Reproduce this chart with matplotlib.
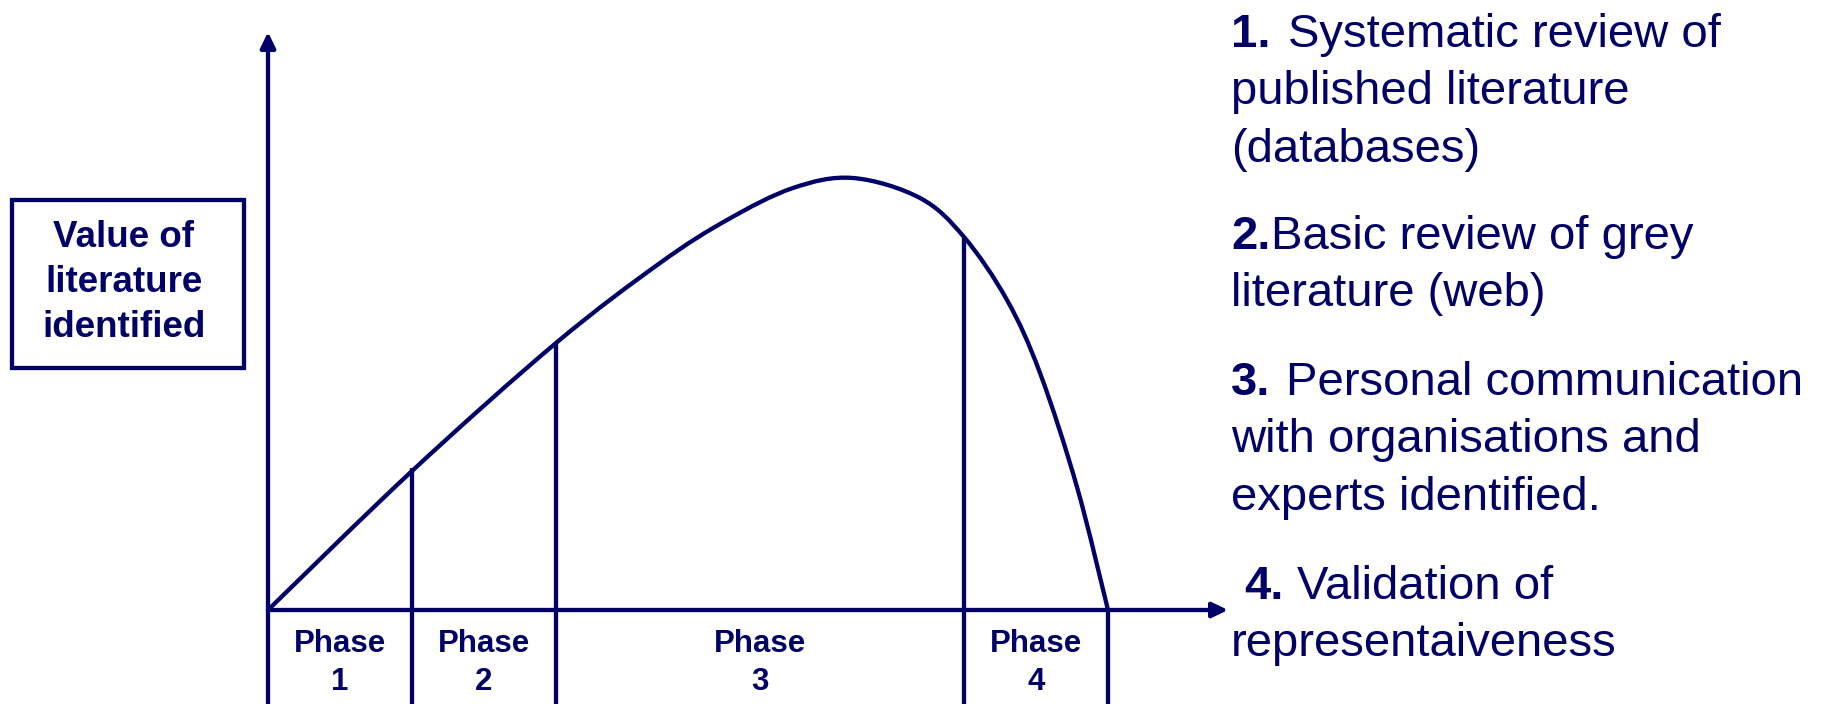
import matplotlib
matplotlib.use("Agg")
import matplotlib.pyplot as plt
from matplotlib.patches import Rectangle, PathPatch
from matplotlib.path import Path

# ---------------- data ----------------
# curve: x = distance along the time axis, y = value of literature identified
curve_x = [0, 144, 288, 392, 459, 525, 585, 652, 696, 739, 772, 809, 840]
curve_y = [0, 139, 267, 347, 390, 422, 432, 412, 373, 310, 237, 123, 0]

# phase boundaries along the x axis and curve height at each boundary
phase_edges = [0, 144, 288, 696, 840]
phase_tops = [0, 142, 267, 372, 0]
phase_names = ["Phase", "Phase", "Phase", "Phase"]
phase_numbers = ["1", "2", "3", "4"]

y_label_lines = ["Value of", "literature", "identified"]

note_numbers = ["1.", "2.", "3.", "4."]
note_texts = [
    ["Systematic review of", "published literature", "(databases)"],
    ["Basic review of grey", "literature (web)"],
    ["Personal communication", "with organisations and", "experts identified."],
    ["Validation of", "representaiveness"],
]

# ---------------- style / layout ----------------
C = "#000066"
LW = 3.1
FONT = "Liberation Sans"
W, H = 1824, 704
OX, OY = 268, 610          # pixel position of the chart origin
X_TIP, Y_TIP = 1228, 32    # pixel positions of arrow tips


def P(px, py):
    """layout pixel (from top-left) -> axes data coordinates"""
    return px - OX, OY - py


def smooth_path(xs, ys):
    """Catmull-Rom curve through the points, rendered as cubic Bezier."""
    pts = list(zip(xs, ys))
    n = len(pts)
    verts = [pts[0]]
    codes = [Path.MOVETO]
    for i in range(n - 1):
        p0 = pts[i - 1] if i > 0 else pts[i]
        p1 = pts[i]
        p2 = pts[i + 1]
        p3 = pts[i + 2] if i + 2 < n else pts[i + 1]
        c1 = (p1[0] + (p2[0] - p0[0]) / 6, p1[1] + (p2[1] - p0[1]) / 6)
        c2 = (p2[0] - (p3[0] - p1[0]) / 6, p2[1] - (p3[1] - p1[1]) / 6)
        verts += [c1, c2, p2]
        codes += [Path.CURVE4] * 3
    return Path(verts, codes)


fig = plt.figure(figsize=(W / 100, H / 100), dpi=100)
fig.patch.set_facecolor("white")
ax = fig.add_axes([0, 0, 1, 1])
ax.set_xlim(-OX, W - OX)
ax.set_ylim(OY - H, OY)
ax.axis("off")

bottom = OY - H

# axes with arrows
arrow_style = "-|>,head_length=0.62,head_width=0.3"
ax.annotate("", xy=P(OX, Y_TIP), xytext=(0, bottom),
            arrowprops=dict(arrowstyle=arrow_style, lw=LW, color=C,
                            shrinkA=0, shrinkB=0, mutation_scale=15))
ax.annotate("", xy=P(X_TIP, OY), xytext=(0, 0),
            arrowprops=dict(arrowstyle=arrow_style, lw=LW, color=C,
                            shrinkA=0, shrinkB=0, mutation_scale=15))

# phase boundary lines
ax.vlines(phase_edges[1:], bottom, phase_tops[1:], colors=C, lw=LW)

# curve (smooth)
ax.add_patch(PathPatch(smooth_path(curve_x, curve_y), fill=False, ec=C,
                       lw=LW, joinstyle="round", capstyle="round"))

# phase labels
for i in range(len(phase_names)):
    cx = (phase_edges[i] + phase_edges[i + 1]) / 2
    ax.text(cx, P(0, 652.5)[1], phase_names[i], ha="center", va="baseline",
            fontsize=22.5, fontweight="bold", color=C, family=FONT)
    ax.text(cx, P(0, 690)[1], phase_numbers[i], ha="center", va="baseline",
            fontsize=22.5, fontweight="bold", color=C, family=FONT)

# y-axis label box
bx0, by0 = P(11.5, 368)
bx1, by1 = P(244.5, 199.5)
ax.add_patch(Rectangle((bx0, by0), bx1 - bx0, by1 - by0, fill=False,
                       ec=C, lw=LW))
for line, base in zip(y_label_lines, [247.3, 291.7, 336.7]):
    x, y = P(124, base)
    ax.text(x, y, line, ha="center", va="baseline", fontsize=26.5,
            fontweight="bold", color=C, family=FONT)

# notes on the right
num_x = [1231, 1231, 1231, 1244]
txt_x = [1288, 1271, 1286, 1297.5]
first_base = [47, 249, 395, 598.6]
line_step = 57.5
for i in range(len(note_numbers)):
    x, y = P(num_x[i], first_base[i])
    ax.text(x, y, note_numbers[i], ha="left", va="baseline", fontsize=34,
            fontweight="bold", color=C, family=FONT)
    for j, line in enumerate(note_texts[i]):
        lx = txt_x[i] if j == 0 else 1231
        x, y = P(lx, first_base[i] + j * line_step)
        ax.text(x, y, line, ha="left", va="baseline", fontsize=34,
                color=C, family=FONT)

fig.savefig("out.png", dpi=100, facecolor="white")
